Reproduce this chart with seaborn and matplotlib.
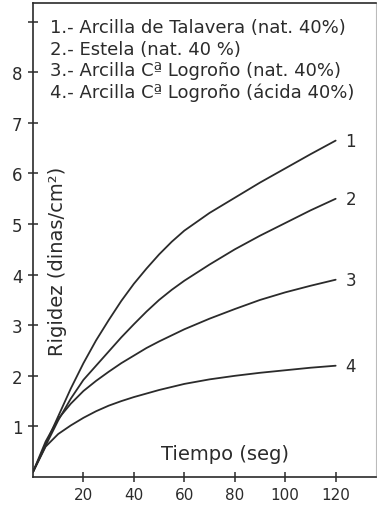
import matplotlib
matplotlib.use("Agg")
import matplotlib.pyplot as plt
import seaborn as sns
import pandas as pd

# ---- data ----
tiempo = [0, 5, 10, 15, 20, 25, 30, 35, 40, 45, 50, 55, 60, 70, 80, 90, 100, 110, 120]
curva_1 = [0.1, 0.65, 1.2, 1.75, 2.25, 2.7, 3.1, 3.48, 3.82, 4.12, 4.4, 4.65, 4.87,
           5.22, 5.52, 5.82, 6.1, 6.38, 6.65]
curva_2 = [0.1, 0.62, 1.12, 1.55, 1.92, 2.2, 2.48, 2.76, 3.02, 3.27, 3.5, 3.7, 3.88,
           4.2, 4.5, 4.77, 5.02, 5.27, 5.5]
curva_3 = [0.1, 0.7, 1.15, 1.45, 1.7, 1.9, 2.08, 2.25, 2.4, 2.55, 2.68, 2.8, 2.92,
           3.13, 3.32, 3.5, 3.65, 3.78, 3.9]
curva_4 = [0.1, 0.6, 0.85, 1.02, 1.17, 1.3, 1.41, 1.5, 1.58, 1.65, 1.72, 1.78, 1.84,
           1.93, 2.0, 2.06, 2.11, 2.16, 2.2]
etiquetas = ["1", "2", "3", "4"]
leyenda = [
    "1.- Arcilla de Talavera (nat. 40%)",
    "2.- Estela (nat. 40 %)",
    "3.- Arcilla Cª Logroño (nat. 40%)",
    "4.- Arcilla Cª Logroño (ácida 40%)",
]
x_ticks = [20, 40, 60, 80, 100, 120]
y_ticks = [1, 2, 3, 4, 5, 6, 7, 8, 9]
y_ticklabels = ["1", "2", "3", "4", "5", "6", "7", "8", ""]

series = [curva_1, curva_2, curva_3, curva_4]
df = pd.concat(
    [pd.DataFrame({"t": tiempo, "r": s, "c": lab}) for s, lab in zip(series, etiquetas)],
    ignore_index=True,
)

sns.set_theme(style="white")
plt.rcParams["font.family"] = ["DejaVu Sans"]
ink = "#2b2b2b"

fig = plt.figure(figsize=(3.77, 5.10), dpi=100)
ax = fig.add_axes([33 / 377, 32 / 510, (376 - 33) / 377, (478 - 4) / 510])

sns.lineplot(data=df, x="t", y="r", hue="c", units="c", estimator=None,
             palette=[ink] * 4, linewidth=1.3, legend=False, ax=ax)

ax.set_xlim(0, 136)
ax.set_ylim(0, 9.37)
ax.set_xticks(x_ticks)
ax.set_xticklabels([str(v) for v in x_ticks], fontsize=11, color=ink)
ax.set_yticks(y_ticks)
ax.set_yticklabels(y_ticklabels, fontsize=12, color=ink)
ax.tick_params(axis="both", direction="inout", length=7, width=1.1, color=ink,
               bottom=True, left=True, pad=4)
for sp in ax.spines.values():
    sp.set_color(ink)
    sp.set_linewidth(1.2)
ax.spines["right"].set_color("#bbbbbb")
ax.spines["right"].set_linewidth(0.8)

ax.set_xlabel("")
ax.set_ylabel("Rigidez (dinas/cm²)", fontsize=14, color=ink)
ax.yaxis.set_label_coords(0.099, 0.456)
ax.text(0.56, 0.05, "Tiempo (seg)", transform=ax.transAxes, fontsize=14,
        color=ink, ha="center", va="center")

for s, lab in zip(series, etiquetas):
    ax.annotate(lab, xy=(tiempo[-1], s[-1]), xytext=(7, 0),
                textcoords="offset points", fontsize=12, color=ink,
                ha="left", va="center")

for i, txt in enumerate(leyenda):
    fig.text(50 / 377, 1 - (28 + 21.7 * i) / 510, txt, fontsize=13,
             color=ink, ha="left", va="center")

fig.savefig("out.png", dpi=100, facecolor="white")
